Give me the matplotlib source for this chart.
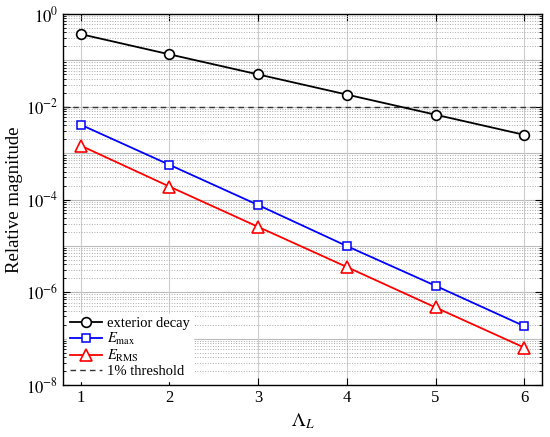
import matplotlib
matplotlib.use("Agg")
import matplotlib.pyplot as plt
from matplotlib.ticker import LogLocator, NullFormatter, FixedLocator

plt.rcParams['font.family'] = ['Liberation Serif', 'DejaVu Serif']
plt.rcParams['mathtext.fontset'] = 'stix'

lam = [1, 2, 3, 4, 5, 6]
exterior = [0.368, 0.135, 0.0498, 0.0183, 0.00674, 0.00248]
emax = [4.1e-3, 5.6e-4, 7.6e-5, 9.9e-6, 1.38e-6, 1.86e-7]
erms = [1.45e-3, 1.9e-4, 2.57e-5, 3.5e-6, 4.7e-7, 6.4e-8]
threshold = 1e-2
ytick_vals = [1e0, 1e-2, 1e-4, 1e-6, 1e-8]
ytick_labels = ['$10^{0}$', '$10^{-2}$', '$10^{-4}$', '$10^{-6}$', '$10^{-8}$']

fig = plt.figure(figsize=(5.5, 4.37), dpi=100)
ax = fig.add_axes([63/550, 1-385/437, (542-63)/550, (385-14)/437])

ax.plot(lam, exterior, color='black', lw=1.3, marker='o', ms=7, mfc='white',
        mec='black', mew=1.2, label='exterior decay', zorder=3)
ax.plot(lam, emax, color='blue', lw=1.3, marker='s', ms=6, mfc='white',
        mec='blue', mew=1.1, label=r'$E_{\mathrm{max}}$', zorder=3)
ax.plot(lam, erms, color='red', lw=1.3, marker='^', ms=8, mfc='white',
        mec='red', mew=1.2, label=r'$E_{\mathrm{RMS}}$', zorder=3)
ax.axhline(threshold, color='#333333', lw=1.0, ls='--', dashes=(4, 3),
           label='1% threshold', zorder=2)

ax.set_yscale('log')
ax.set_ylim(1e-8, 1e0)
ax.set_xlim(0.8, 6.2)
ax.set_xticks(lam)
ax.yaxis.set_major_locator(FixedLocator(ytick_vals))
ax.set_yticklabels(ytick_labels)
ax.yaxis.set_minor_locator(LogLocator(base=10, subs=range(2, 10), numticks=20))
ax.yaxis.set_minor_formatter(NullFormatter())

# grid
for d in range(-8, 1):
    ax.axhline(10.0**d, color='#bbbbbb', lw=0.8, zorder=0)
ax.grid(True, which='minor', axis='y', color='#aaaaaa', ls=':', lw=0.7, zorder=0)
ax.grid(True, which='major', axis='x', color='#cccccc', ls='-', lw=0.8, zorder=0)

ax.tick_params(axis='both', which='both', direction='in', top=True, right=True,
               labelsize=12)
ax.tick_params(which='major', length=5, width=0.8)
ax.tick_params(which='minor', length=2.5, width=0.6)
for s in ax.spines.values():
    s.set_linewidth(1.0)

ax.set_xlabel(r'$\Lambda_L$', fontsize=14)
ax.set_ylabel('Relative magnitude', fontsize=13.5, labelpad=2)

leg = ax.legend(loc='lower left', fontsize=10.5, frameon=True, fancybox=False,
                framealpha=1, edgecolor='white', borderaxespad=0.3,
                handlelength=2.2, handletextpad=0.3, labelspacing=0.05,
                borderpad=0.2)

fig.savefig('out.png', dpi=100)
